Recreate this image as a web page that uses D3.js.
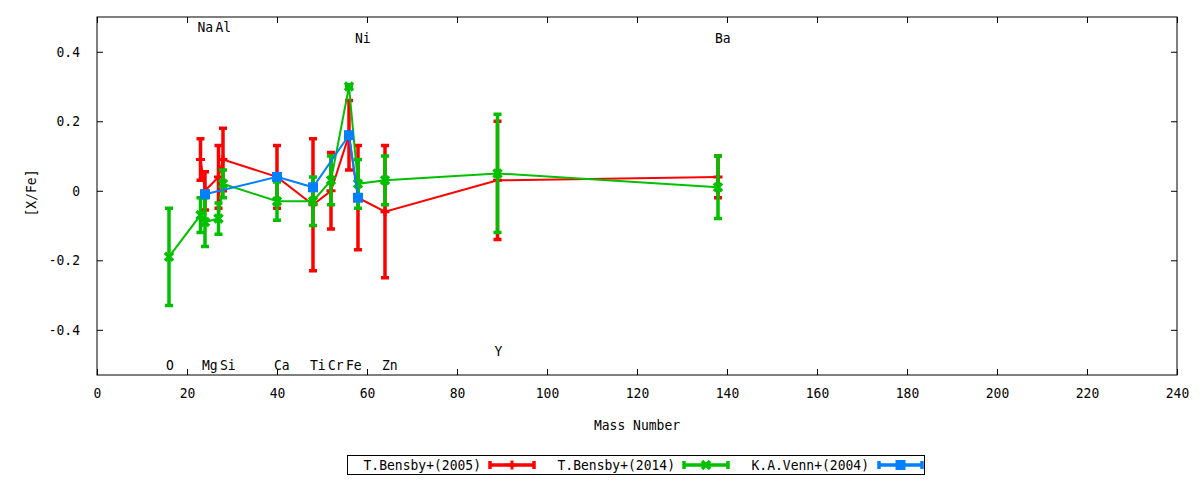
<!DOCTYPE html>
<html>
<head>
<meta charset="utf-8">
<script src="https://cdn.jsdelivr.net/npm/d3@7"></script>
<style>
	body { margin:0; background:#fff; }
	text { font-family:"DejaVu Sans Mono", monospace; font-size:14.3px; fill:#000; }
</style>
</head>
<body>
<div id="chart"></div>
<script>
// element labels (x = mass number)
var elements = ["O","Na","Mg","Al","Si","Ca","Ti","Cr","Fe","Ni","Zn","Y","Ba"]
var massNumbers = [16,23,24,27,28,40,48,52,56,58,64,89,138]
var labelY = [-0.5,0.47,-0.5,0.47,-0.5,-0.5,-0.5,-0.5,-0.5,0.44,-0.5,-0.46,0.44]

// T.Bensby+(2005)
var bensby05Mass = [23,24,27,28,40,48,52,56,58,64,89,138]
var bensby05Val = [0.09,0.00,0.04,0.09,0.04,-0.04,0.00,0.16,-0.02,-0.06,0.03,0.04]
var bensby05Err = [0.06,0.055,0.09,0.09,0.09,0.19,0.11,0.10,0.15,0.19,0.17,0.06]

// T.Bensby+(2014)
var bensby14Mass = [16,23,24,27,28,40,48,52,56,58,64,89,138]
var bensby14Val = [-0.19,-0.07,-0.09,-0.08,0.02,-0.03,-0.03,0.03,0.30,0.02,0.03,0.05,0.01]
var bensby14Err = [0.14,0.05,0.07,0.045,0.04,0.055,0.07,0.07,0.005,0.07,0.07,0.17,0.09]

// K.A.Venn+(2004)
var vennMass = [24,40,48,56,58]
var vennVal = [-0.01,0.04,0.01,0.16,-0.02]
var vennErr = [0,0,0,0,0]

var xTicks = [0,20,40,60,80,100,120,140,160,180,200,220,240]
var yTicks = [-0.4,-0.2,0,0.2,0.4]

var chart = {}
chart.width = 1200
chart.height = 480
chart.margin = {left:97, right:23, top:17, bottom:105}

var series = [
	{name:"T.Bensby+(2005)", color:"#ff0000", marker:"plus", x:bensby05Mass, y:bensby05Val, e:bensby05Err},
	{name:"T.Bensby+(2014)", color:"#00c000", marker:"cross", x:bensby14Mass, y:bensby14Val, e:bensby14Err},
	{name:"K.A.Venn+(2004)", color:"#0080ff", marker:"square", x:vennMass, y:vennVal, e:vennErr}
]
series.forEach(function(s){
	s.points = s.x.map(function(m,i){
		return {m:m, v:s.y[i], e:s.e[i]}
	})
})

var svg = d3.select("#chart")
	.append("svg")
	.attr("width",chart.width)
	.attr("height",chart.height)

var x = d3.scaleLinear()
	.domain([0,240])
	.range([chart.margin.left, chart.width - chart.margin.right])
var y = d3.scaleLinear()
	.domain([-0.53,0.5])
	.range([chart.height - chart.margin.bottom, chart.margin.top])

var fmt = function(d){ return String(+d.toFixed(1)) }

svg.append("g")
	.attr("transform","translate(0,"+y.range()[0]+")")
	.call(d3.axisBottom(x).tickValues(xTicks).tickSize(-6).tickPadding(13).tickFormat(fmt))
svg.append("g")
	.attr("transform","translate(0,"+y.range()[1]+")")
	.call(d3.axisTop(x).tickValues(xTicks).tickSize(-6).tickFormat(""))
svg.append("g")
	.attr("transform","translate("+x.range()[0]+",0)")
	.call(d3.axisLeft(y).tickValues(yTicks).tickSize(-6).tickPadding(17).tickFormat(fmt))
svg.append("g")
	.attr("transform","translate("+x.range()[1]+",0)")
	.call(d3.axisRight(y).tickValues(yTicks).tickSize(-6).tickFormat(""))

svg.selectAll(".domain").remove()
svg.selectAll(".tick line").attr("stroke","#000")
svg.selectAll(".tick text")
	.style("font-family","'DejaVu Sans Mono', monospace")
	.style("font-size","14.3px")
	.attr("fill","#000")

svg.append("rect")
	.attr("x",x.range()[0])
	.attr("y",y.range()[1])
	.attr("width",x.range()[1]-x.range()[0])
	.attr("height",y.range()[0]-y.range()[1])
	.attr("fill","none")
	.attr("stroke","#000")
	.attr("stroke-width",1)

svg.append("text")
	.attr("x",(x.range()[0]+x.range()[1])/2)
	.attr("y",425)
	.attr("dy","0.35em")
	.attr("text-anchor","middle")
	.text("Mass Number")
svg.append("text")
	.attr("transform","translate(31,193) rotate(-90)")
	.attr("dy","0.35em")
	.attr("text-anchor","middle")
	.text("[X/Fe]")

svg.append("g")
	.selectAll("text")
	.data(elements)
	.enter()
	.append("text")
	.attr("x",function(d,i){ return x(massNumbers[i]) - 3 })
	.attr("y",function(d,i){ return y(labelY[i]) })
	.attr("dy","0.35em")
	.text(function(d){ return d })

var drawMarker = function(g,type,color,cx,cy){
	if (type=="plus") {
		g.append("path")
			.attr("d","M"+(cx-4.5)+","+cy+"H"+(cx+4.5)+"M"+cx+","+(cy-4.5)+"V"+(cy+4.5))
			.attr("stroke",color).attr("stroke-width",3).attr("fill","none")
	} else if (type=="cross") {
		g.append("path")
			.attr("d","M"+(cx-4)+","+(cy-4)+"L"+(cx+4)+","+(cy+4)+"M"+(cx-4)+","+(cy+4)+"L"+(cx+4)+","+(cy-4))
			.attr("stroke",color).attr("stroke-width",3.5).attr("fill","none")
	} else {
		g.append("rect")
			.attr("x",cx-5).attr("y",cy-5)
			.attr("width",10).attr("height",10)
			.attr("fill",color)
	}
}

var line = d3.line()
	.x(function(d){ return x(d.m) })
	.y(function(d){ return y(d.v) })

var plot = svg.append("g")
series.forEach(function(s){
	var g = plot.append("g")
	g.append("path")
		.datum(s.points)
		.attr("d",line)
		.attr("fill","none")
		.attr("stroke",s.color)
		.attr("stroke-width",2)
	g.selectAll(".bar")
		.data(s.points)
		.enter()
		.append("path")
		.attr("class","bar")
		.attr("d",function(d){
			var cx = x(d.m), t = y(d.v+d.e), b = y(d.v-d.e)
			return "M"+cx+","+t+"V"+b+"M"+(cx-4)+","+t+"H"+(cx+4)+"M"+(cx-4)+","+b+"H"+(cx+4)
		})
		.attr("fill","none")
		.attr("stroke",s.color)
		.attr("stroke-width",3.5)
	s.points.forEach(function(d){
		drawMarker(g,s.marker,s.color,x(d.m),y(d.v))
	})
})

// legend
var legend = svg.append("g")
legend.append("rect")
	.attr("x",347.5).attr("y",455.5)
	.attr("width",577).attr("height",19)
	.attr("fill","none").attr("stroke","#000")
var legendTextEnd = [481,675,869]
var legendSample = [[490,534],[684,728],[879,922]]
series.forEach(function(s,i){
	legend.append("text")
		.attr("x",legendTextEnd[i])
		.attr("y",465)
		.attr("dy","0.35em")
		.attr("text-anchor","end")
		.text(s.name)
	var a = legendSample[i][0], b = legendSample[i][1]
	legend.append("path")
		.attr("d","M"+a+",465H"+b+"M"+a+",461V469M"+b+",461V469")
		.attr("stroke",s.color).attr("stroke-width",3.5).attr("fill","none")
	drawMarker(legend,s.marker,s.color,(a+b)/2,465)
})

// gnuplot's font is narrow: squeeze glyphs back to the 13px advance
svg.selectAll("text").each(function(){
	var len = this.getComputedTextLength()
	if (len > 0) {
		d3.select(this)
			.attr("textLength",len*0.91)
			.attr("lengthAdjust","spacingAndGlyphs")
	}
})
</script>
</body>
</html>
